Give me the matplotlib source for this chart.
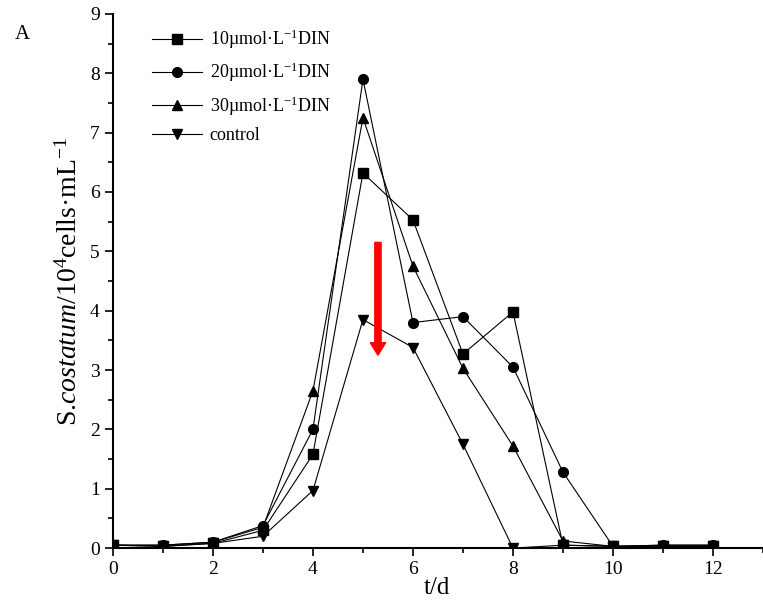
import matplotlib.pyplot as plt
from matplotlib.ticker import MultipleLocator

plt.rcParams['font.family'] = ['Liberation Serif', 'DejaVu Serif']
plt.rcParams['mathtext.fontset'] = 'custom'
plt.rcParams['mathtext.rm'] = 'Liberation Serif'
plt.rcParams['mathtext.it'] = 'Liberation Serif:italic'

days = list(range(13))
din10 = [0.05, 0.03, 0.08, 0.30, 1.58, 6.32, 5.53, 3.27, 3.98, 0.05, 0.03, 0.03, 0.03]
din20 = [0.05, 0.05, 0.10, 0.38, 2.00, 7.90, 3.80, 3.90, 3.05, 1.28, 0.03, 0.05, 0.05]
din30 = [0.05, 0.05, 0.10, 0.35, 2.65, 7.25, 4.75, 3.03, 1.72, 0.12, 0.03, 0.05, 0.05]
control = [0.05, 0.03, 0.08, 0.20, 0.97, 3.85, 3.38, 1.75, 0.00, 0.05, 0.03, 0.03, 0.03]
labels = ['10µmol·L$^{-1}$DIN', '20µmol·L$^{-1}$DIN',
          '30µmol·L$^{-1}$DIN', 'control']
markers = ['s', 'o', '^', 'v']

fig = plt.figure(figsize=(7.63, 6.05), dpi=100)
ax = fig.add_axes([0.148, 0.094, 0.852, 0.883])

for ys, lab, m in zip([din10, din20, din30, control], labels, markers):
    ax.plot(days, ys, color='black', lw=0.8, marker=m, ms=7, label=lab)

# red arrow
ax.annotate('', xy=(5.3, 3.25), xytext=(5.3, 5.15),
            arrowprops=dict(facecolor='red', edgecolor='red', width=4.5, headwidth=11, headlength=9))

ax.set_xlim(0, 13)
ax.set_ylim(0, 9)
ax.xaxis.set_major_locator(MultipleLocator(2))
ax.xaxis.set_minor_locator(MultipleLocator(1))
ax.yaxis.set_major_locator(MultipleLocator(1))
ax.yaxis.set_minor_locator(MultipleLocator(0.5))
ax.tick_params(which='major', direction='out', length=6, width=1.2, labelsize=14)
ax.tick_params(which='minor', direction='out', length=3.5, width=1.2)
for s in ['top', 'right']:
    ax.spines[s].set_visible(False)
for s in ['left', 'bottom']:
    ax.spines[s].set_linewidth(1.5)

ax.set_ylabel(r'S.$\it{costatum}$/10$^4$cells·mL$^{-1}$', fontsize=20, labelpad=5)
fig.text(0.555, 0.018, 't/d', fontsize=18)
fig.text(0.02, 0.935, 'A', fontsize=15)

ax.legend(loc='upper left', bbox_to_anchor=(0.035, 1.005), frameon=False, fontsize=13,
          handlelength=2.8, labelspacing=0.55, handletextpad=0.4)

fig.savefig('out.png', dpi=100)
